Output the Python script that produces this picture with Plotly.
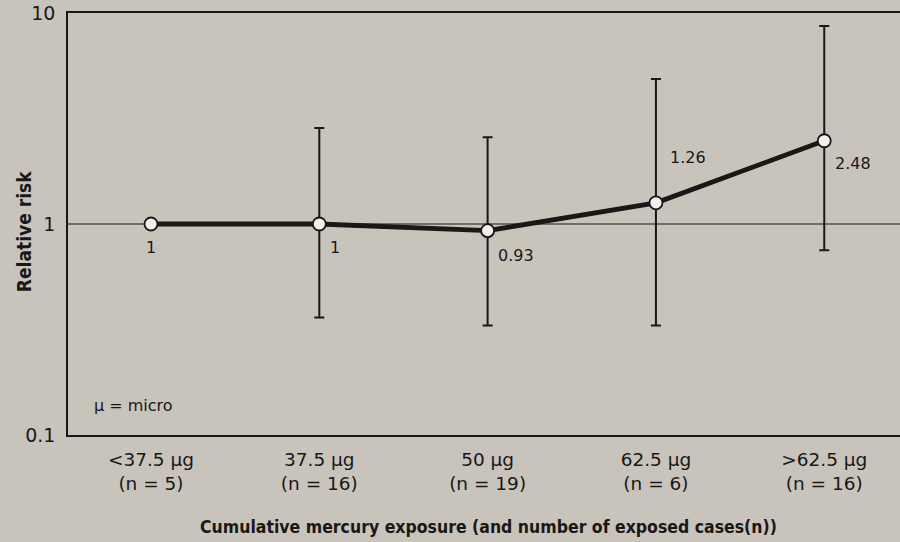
import math
import plotly.graph_objects as go

categories = ["<37.5 µg<br>(n = 5)", "37.5 µg<br>(n = 16)", "50 µg<br>(n = 19)",
              "62.5 µg<br>(n = 6)", ">62.5 µg<br>(n = 16)"]
relative_risk = [1.0, 1.0, 0.93, 1.26, 2.48]
ci_lower = [None, 0.36, 0.33, 0.33, 0.75]
ci_upper = [None, 2.85, 2.58, 4.87, 8.67]
value_labels = ["1", "1", "0.93", "1.26", "2.48"]
y_ticks = [0.1, 1, 10]
y_tick_labels = ["0.1", "1", "10"]
x_title = "Cumulative mercury exposure (and number of exposed cases(n))"
y_title = "Relative risk"

BG = "#c8c4bc"
INK = "#1a1716"
FONT = "DejaVu Sans, Liberation Sans, sans-serif"
BOLD_NARROW = "DejaVu Sans Condensed, Liberation Sans Narrow, Liberation Sans, sans-serif"

xi = list(range(len(categories)))
eb_x = [x for x, lo in zip(xi, ci_lower) if lo is not None]
eb_y = [y for y, lo in zip(relative_risk, ci_lower) if lo is not None]
eb_plus = [u - y for y, u in zip(relative_risk, ci_upper) if u is not None]
eb_minus = [y - l for y, l in zip(relative_risk, ci_lower) if l is not None]

fig = go.Figure()
fig.add_shape(type="line", xref="paper", x0=0, x1=1, yref="y", y0=1, y1=1,
              line=dict(color=INK, width=1.2), layer="below")
fig.add_trace(go.Scatter(
    x=eb_x, y=eb_y, mode="markers", marker=dict(opacity=0),
    error_y=dict(type="data", symmetric=False, array=eb_plus, arrayminus=eb_minus,
                 color=INK, thickness=2, width=5),
    showlegend=False, hoverinfo="skip"))
fig.add_trace(go.Scatter(
    x=xi, y=relative_risk, mode="lines+markers",
    line=dict(color=INK, width=4.8),
    marker=dict(size=13, color="#f2f0ec", line=dict(color=INK, width=1.8)),
    showlegend=False))

# value labels (dx, dy-down, anchor)
offsets = [(0, 23, "center"), (9, 23, "left"), (8, 25, "left"), (12, -45, "left"), (9, 23, "left")]
for i, (lab, (dx, dy, anc)) in enumerate(zip(value_labels, offsets)):
    fig.add_annotation(x=i, y=math.log10(relative_risk[i]), text=lab, showarrow=False,
                       xanchor=anc, yanchor="middle", xshift=dx, yshift=-dy,
                       font=dict(family=FONT, size=16, color=INK))

fig.add_annotation(xref="paper", yref="paper", x=0.029, y=0.07, text="µ = micro",
                   showarrow=False, xanchor="left", yanchor="middle",
                   font=dict(family=FONT, size=16, color=INK))

# axis titles
fig.add_annotation(xref="paper", yref="paper", x=0.506, y=-0.218, text="<b>" + x_title + "</b>",
                   showarrow=False, xanchor="center", yanchor="middle",
                   font=dict(family=BOLD_NARROW, size=17.5, color=INK))
fig.add_annotation(xref="paper", yref="paper", x=-0.0529, y=0.483, text="<b>" + y_title + "</b>",
                   showarrow=False, xanchor="center", yanchor="middle", textangle=-90,
                   font=dict(family=BOLD_NARROW, size=19, color=INK))

fig.update_layout(
    width=900, height=542,
    margin=dict(l=68, r=0, t=13, b=107),
    paper_bgcolor=BG, plot_bgcolor=BG,
    font=dict(family=FONT, color=INK),
    xaxis=dict(range=[-0.493, 4.45], tickvals=xi, ticktext=categories,
               showgrid=False, zeroline=False, showline=True, linecolor=INK,
               linewidth=1.5, mirror=True, ticks="", ticklen=0, ticklabelstandoff=7,
               tickfont=dict(family=FONT, size=18.5, color=INK)),
    yaxis=dict(type="log", range=[-1, 1], tickvals=y_ticks, ticktext=y_tick_labels,
               showgrid=False, zeroline=False, showline=True, linecolor=INK,
               linewidth=1.5, ticks="", ticklen=0, ticklabelstandoff=7,
               tickfont=dict(family=FONT, size=19, color=INK)),
)
fig.write_html("out.html")
